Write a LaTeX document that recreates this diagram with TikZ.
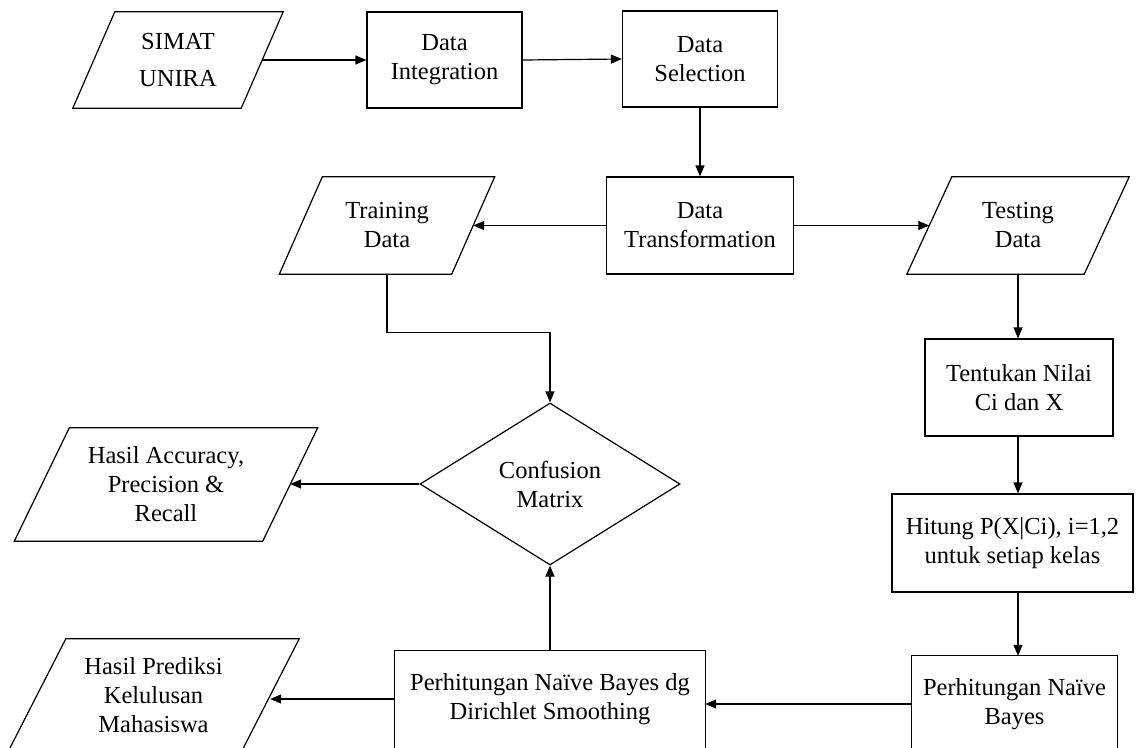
\documentclass[tikz,border=0pt]{standalone}
\usepackage{fontspec}
\setmainfont{Liberation Serif}
\usetikzlibrary{shapes.geometric,arrows.meta,calc}
\newcommand{\parashape}[2]{%
  \draw[ln] ($(#1.south west)+(-#2,0)$) -- ($(#1.south east)+(-#2,0)$) --
    ($(#1.north east)+(#2,0)$) -- ($(#1.north west)+(#2,0)$) -- cycle;}
\begin{document}
\begin{tikzpicture}[x=1pt,y=-1pt,
  every node/.style={font=\fontsize{24.5}{29}\selectfont, align=center, inner sep=0pt},
  proc/.style={draw, rectangle, line width=1.2pt},
  io/.style={rectangle},
  dec/.style={draw, diamond, aspect=1.6, line width=1.2pt},
  txt/.style={rectangle},
  ln/.style={line width=1.2pt},
  arr/.style={line width=1.2pt, -{Triangle[length=11pt,width=9pt]}}]
\useasboundingbox (0,0) rectangle (1137,747);
\fill[white] (0,0) rectangle (1137,747);
\clip (0,0) rectangle (1137,747);
\coordinate (bot) at (0,770);

% top row
\node[io, minimum width=168pt, minimum height=96pt] (sim) at (178,60) {SIMAT\\[8pt]UNIRA};
\parashape{sim}{21}
\node[proc, minimum width=155pt, minimum height=96pt] (di) at (444.5,60) {Data\\Integration};
\node[proc, minimum width=155pt, minimum height=96pt] (ds) at (700,59) {Data\\Selection};

% second row
\node[proc, minimum width=187pt, minimum height=97pt] (dt) at (700,225.5) {Data\\Transformation};
\node[io, minimum width=172pt, minimum height=97pt] (tr) at (387,225.5) {Training\\Data};
\parashape{tr}{21.5}
\node[io, minimum width=177pt, minimum height=97pt] (te) at (1018,225.5) {Testing\\Data};
\parashape{te}{22.5}

% middle
\node[dec, minimum width=260pt, minimum height=162pt] (cm) at (550,484) {Confusion\\Matrix};
\node[io, minimum width=248pt, minimum height=113pt] (ha) at (166,484.5) {Hasil Accuracy,\\Precision \&\\Recall};
\parashape{ha}{27.5}

% right column
\node[proc, minimum width=188pt, minimum height=97pt] (tn) at (1019,387.5) {Tentukan Nilai\\Ci dan X};
\node[proc, minimum width=241pt, minimum height=98pt] (hi) at (1012.5,543) {Hitung P(X|Ci), i=1,2\\untuk setiap kelas};

% bottom row (boxes run off the lower edge)
\node[txt, minimum width=205pt, minimum height=96pt] (pn) at (1014.5,704) {Perhitungan Naïve\\Bayes};
\node[txt, minimum width=310pt, minimum height=96pt] (dr) at (550,699) {Perhitungan Naïve Bayes dg\\Dirichlet Smoothing};
\node[io, minimum width=233pt, minimum height=113pt] (hp) at (153.5,695.5) {Hasil Prediksi\\Kelulusan\\Mahasiswa};
\parashape{hp}{29}

\draw[ln] (pn.north west |- bot) -- (pn.north west) -- (pn.north east) -- (pn.north east |- bot);
\draw[ln] (dr.north west |- bot) -- (dr.north west) -- (dr.north east) -- (dr.north east |- bot);

% connectors
\draw[arr] (sim.east) -- (di.west);
\draw[arr] (di.east) -- (ds.west);
\draw[arr] (ds.south) -- (ds.south |- dt.north);
\draw[arr] (dt.west) -- (tr.east);
\draw[arr] (dt.east) -- (te.west);
\draw[arr] (tr.south) -- ++(0,58) -| (cm.north);
\draw[arr] (cm.west) -- (cm.west -| ha.east);
\draw[arr] (te.south) -- (te.south |- tn.north);
\draw[arr] (te.south |- tn.south) -- (te.south |- hi.north);
\draw[arr] (te.south |- hi.south) -- (te.south |- pn.north);
\draw[arr] (pn.west) -- (pn.west -| dr.east);
\draw[arr] (dr.north) -- (cm.south);
\draw[arr] (dr.west) -- (dr.west -| hp.east);
\end{tikzpicture}
\end{document}
